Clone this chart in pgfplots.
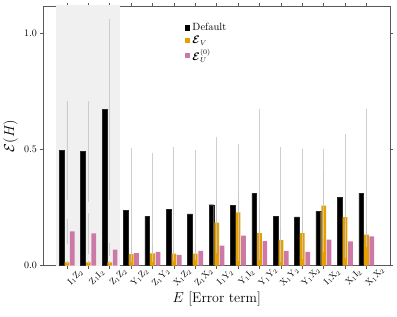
\documentclass[border=0pt]{standalone}
\usepackage{pgfplots}
\usepackage{pgfplotstable}
\usepackage{amsmath,bm}
\pgfplotsset{compat=1.18}
\definecolor{cOrange}{HTML}{E69F00}
\definecolor{cPink}{HTML}{CC79A7}
\pgfplotsset{sqlegend/.style={legend image code/.code={\fill[##1,/tikz/.cd,draw=none] (0pt,-2.6pt) rectangle (5.5pt,2.6pt);}}}
\pgfplotstableread{
x  d      de     o      oe     p      pe
0  0.495  0.213  0.014  0.008  0.147  0.053
1  0.490  0.218  0.014  0.008  0.139  0.087
2  0.672  0.388  0.014  0.008  0.069  0.028
3  0.239  0.267  0.050  0.036  0.054  0.023
4  0.212  0.274  0.053  0.037  0.059  0.025
5  0.242  0.270  0.052  0.034  0.046  0.017
6  0.223  0.275  0.052  0.028  0.064  0.029
7  0.262  0.289  0.185  0.097  0.086  0.030
8  0.260  0.262  0.229  0.089  0.129  0.108
9  0.310  0.364  0.140  0.115  0.106  0.031
10 0.213  0.299  0.110  0.056  0.064  0.048
11 0.210  0.292  0.140  0.063  0.059  0.031
12 0.233  0.269  0.258  0.140  0.112  0.052
13 0.293  0.274  0.209  0.091  0.104  0.071
14 0.312  0.362  0.133  0.047  0.126  0.044
}\datatable
\begin{document}
\begin{tikzpicture}
\begin{axis}[
  scale only axis,
  width=347pt, height=260pt,
  xmin=-1.1, xmax=15.1,
  ymin=0, ymax=1.116,
  axis line style={black!65},
  tick style={black!65, line width=0.6pt},
  tick align=outside,
  major tick length=3pt,
  xtick={0,...,14},
  xticklabels={$\mathrm{I}_1\mathrm{Z}_2$,$\mathrm{Z}_1\mathrm{I}_2$,$\mathrm{Z}_1\mathrm{Z}_2$,$\mathrm{Y}_1\mathrm{Z}_2$,$\mathrm{Z}_1\mathrm{Y}_2$,$\mathrm{X}_1\mathrm{Z}_2$,$\mathrm{Z}_1\mathrm{X}_2$,$\mathrm{I}_1\mathrm{Y}_2$,$\mathrm{Y}_1\mathrm{I}_2$,$\mathrm{Y}_1\mathrm{Y}_2$,$\mathrm{X}_1\mathrm{Y}_2$,$\mathrm{Y}_1\mathrm{X}_2$,$\mathrm{I}_1\mathrm{X}_2$,$\mathrm{X}_1\mathrm{I}_2$,$\mathrm{X}_1\mathrm{X}_2$},
  xticklabel style={rotate=45, anchor=center, yshift=-12pt, font=\fontsize{9}{10}\selectfont, inner sep=0pt},
  ytick={0,0.5,1.0},
  yticklabels={0.0,0.5,1.0},
  yticklabel style={font=\fontsize{10}{11}\selectfont},
  xlabel={$E$ [Error term]},
  xlabel style={at={(axis description cs:0.5,-0.13)}, anchor=center, font=\fontsize{14}{16}\selectfont},
  ylabel={$\mathcal{E}(H)$},
  ylabel style={at={(axis description cs:-0.095,0.5)}, anchor=center, font=\fontsize{15}{17}\selectfont},
  legend style={draw=none, fill=none, at={(0.405,0.945)}, anchor=north west, font=\fontsize{10.5}{12}\selectfont, row sep=0pt, inner sep=1pt},
  legend cell align=left,
  error bars/error bar style={color=black!22, line width=0.9pt, opacity=0.85},
  error bars/error mark=none,
]
\fill[black!6] (axis cs:-0.5,0) rectangle (axis cs:2.5,1.2);
\addplot[ybar, bar width=0.22, bar shift=-0.25, fill=black, draw=black!85, line width=0.4pt, sqlegend,
  error bars/.cd, y dir=both, y explicit]
  table[x=x, y=d, y error=de] {\datatable};
\addlegendentry{Default}
\addplot[ybar, bar width=0.22, bar shift=0, fill=cOrange, draw=none, sqlegend,
  error bars/.cd, y dir=both, y explicit]
  table[x=x, y=o, y error=oe] {\datatable};
\addlegendentry{$\bm{\mathcal{E}}_V$}
\addplot[ybar, bar width=0.22, bar shift=0.25, fill=cPink, draw=none, sqlegend,
  error bars/.cd, y dir=both, y explicit]
  table[x=x, y=p, y error=pe] {\datatable};
\addlegendentry{$\bm{\mathcal{E}}_U^{(0)}$}
\end{axis}
\path (current axis.south west) ++(-43pt,-51pt) rectangle ++(397pt,317pt);
\end{tikzpicture}
\end{document}
